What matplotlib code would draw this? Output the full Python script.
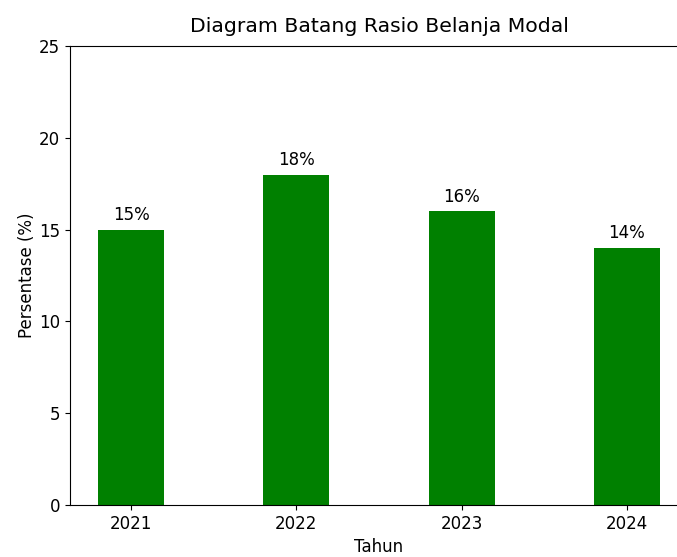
"""Bar chart of capital expenditure ratio per year."""

import matplotlib.pyplot as plt

years = ["2021", "2022", "2023", "2024"]
ratios = [15, 18, 16, 14]

fig = plt.figure(figsize=(6.77, 5.57), dpi=100)
# axes run past the right edge, as in the cropped reference
ax = fig.add_axes([70 / 677, 52 / 557, 618 / 677, 459 / 557])

bars = ax.bar(years, ratios, width=0.4, color="green")
for bar, v in zip(bars, ratios):
    ax.text(bar.get_x() + bar.get_width() / 2, bar.get_height() + 0.3,
            f"{v}%", ha="center", va="bottom", fontsize=12)

ax.set_ylim(0, 25)
ax.spines["right"].set_visible(False)
ax.tick_params(labelsize=12)
ax.set_title("Diagram Batang Rasio Belanja Modal", fontsize=14.7, pad=10)
ax.set_xlabel("Tahun", fontsize=12)
ax.set_ylabel("Persentase (%)", fontsize=12, labelpad=2)

fig.savefig("out.png", dpi=100)
